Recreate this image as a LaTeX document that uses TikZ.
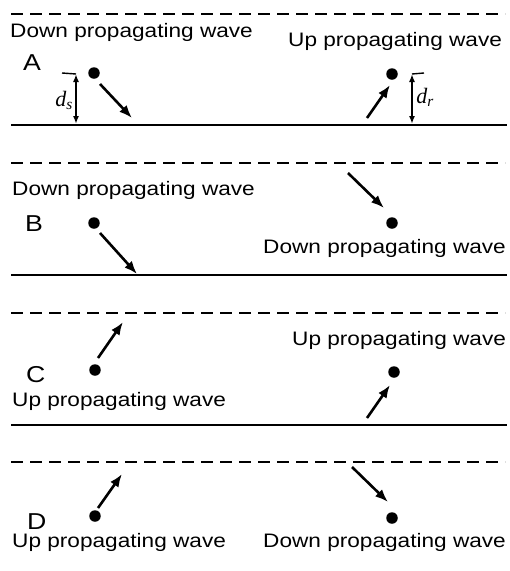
\documentclass[tikz,border=0pt]{standalone}
\usepackage{fontspec}
\setmainfont{Liberation Sans}[FakeStretch=1.16]
\newfontfamily\depthfont{Liberation Serif}
\usetikzlibrary{arrows.meta}

\tikzset{
  wave/.style={line width=2.6pt,-{Latex[length=13pt,width=10pt]}},
  depth/.style={line width=1.6pt,{Latex[length=8pt,width=6pt]}-{Latex[length=8pt,width=6pt]}},
  station/.style={circle,fill=black,inner sep=0pt,minimum size=11.5pt},
  surface/.style={line width=2.2pt,dash pattern=on 12pt off 7pt},
  floor/.style={line width=1.8pt},
  lbl/.style={anchor=base west,inner sep=0pt,font=\fontsize{19.5}{22}\selectfont},
  panel/.style={anchor=base west,inner sep=0pt,font=\fontsize{23}{26}\selectfont},
  dlbl/.style={inner sep=0pt,font=\depthfont\itshape\fontsize{22}{24}\selectfont},
}

\begin{document}
\begin{tikzpicture}[x=1pt,y=-1pt]
  \useasboundingbox (0,0) rectangle (510,571);
  % free surface and interface
  \foreach \y in {14,163,313,462}{\draw[surface] (11,\y) -- (505,\y);}
  \foreach \y in {125,275,425}{\draw[floor] (11,\y) -- (507,\y);}

  % A
  \node[lbl] (a-left) at (10,37) {Down propagating wave};
  \node[lbl] (a-right) at (288,46) {Up propagating wave};
  \node[panel] (a) at (23,70) {A};
  \node[station] (a-src) at (94,73) {};
  \node[station] (a-rec) at (392,74) {};
  \coordinate (ds-top) at (76,74);
  \coordinate (ds-bot) at (76,124);
  \coordinate (dr-top) at (412,74);
  \coordinate (dr-bot) at (412,124);
  \draw[line width=1.4pt] (62,73) -- (ds-top);
  \draw[line width=1.4pt] (dr-top) -- (424,73);
  \draw[depth] (ds-top) -- (ds-bot);
  \draw[depth] (dr-top) -- (dr-bot);
  \node[dlbl] (ds) at (64,100) {d\textsubscript{s}};
  \node[dlbl] (dr) at (425,97) {d\textsubscript{r}};
  \coordinate (a1) at (100,84);  \coordinate (a2) at (132,118);
  \coordinate (a3) at (367,118); \coordinate (a4) at (390,85);
  \draw[wave] (a1) -- (a2);
  \draw[wave] (a3) -- (a4);

  % B
  \node[lbl] (b-left) at (12,195) {Down propagating wave};
  \node[lbl] (b-right) at (263,253) {Down propagating wave};
  \node[panel] (b) at (25,231) {B};
  \node[station] (b-src) at (94,223) {};
  \node[station] (b-rec) at (392,223) {};
  \coordinate (b1) at (100,233); \coordinate (b2) at (137,274);
  \coordinate (b3) at (348,173); \coordinate (b4) at (384,208);
  \draw[wave] (b1) -- (b2);
  \draw[wave] (b3) -- (b4);

  % C
  \node[lbl] (c-left) at (12,406) {Up propagating wave};
  \node[lbl] (c-right) at (292,345) {Up propagating wave};
  \node[panel] (c) at (26,382) {C};
  \node[station] (c-src) at (95,370) {};
  \node[station] (c-rec) at (394,372) {};
  \coordinate (c1) at (98,358);  \coordinate (c2) at (123,322);
  \coordinate (c3) at (367,418); \coordinate (c4) at (390,385);
  \draw[wave] (c1) -- (c2);
  \draw[wave] (c3) -- (c4);

  % D
  \node[lbl] (d-left) at (12,547) {Up propagating wave};
  \node[lbl] (d-right) at (263,547) {Down propagating wave};
  \node[panel] (d) at (27,529) {D};
  \node[station] (d-src) at (95,516) {};
  \node[station] (d-rec) at (392,518) {};
  \coordinate (d1) at (98,508);  \coordinate (d2) at (122,474);
  \coordinate (d3) at (352,467); \coordinate (d4) at (388,502);
  \draw[wave] (d1) -- (d2);
  \draw[wave] (d3) -- (d4);
\end{tikzpicture}
\end{document}
